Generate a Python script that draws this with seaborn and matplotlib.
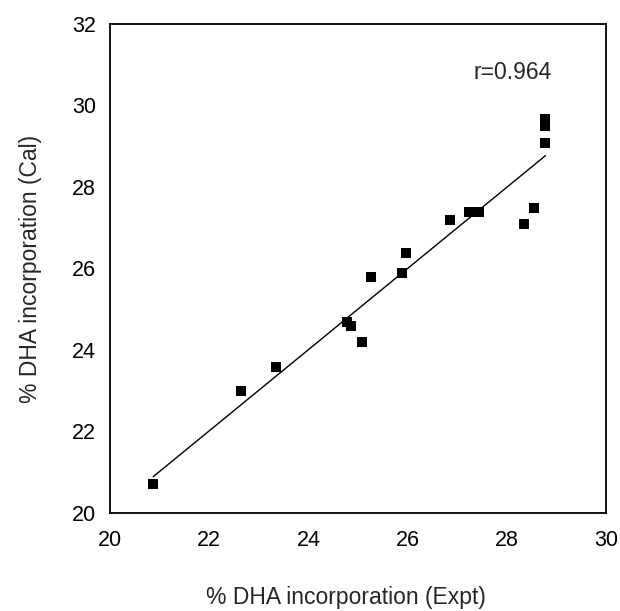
import matplotlib
matplotlib.use("Agg")
import matplotlib.pyplot as plt
import seaborn as sns
import pandas as pd

# Data
expt = [20.87, 22.65, 23.35, 24.77, 24.85, 25.08, 25.27, 25.88, 25.96, 26.85,
        27.24, 27.43, 28.34, 28.55, 28.78, 28.78, 28.78, 28.78]
cal = [20.72, 23.00, 23.59, 24.68, 24.59, 24.19, 25.79, 25.89, 26.38, 27.18,
       27.39, 27.39, 27.08, 27.48, 29.08, 29.49, 29.58, 29.68]
fit_x = [20.87, 28.78]
fit_y = [20.89, 28.77]
x_ticks = [20, 22, 24, 26, 28, 30]
y_ticks = [20, 22, 24, 26, 28, 30, 32]
r_label = "r=0.964"

sns.set_style("white")
plt.rcParams['font.family'] = ['Liberation Sans', 'DejaVu Sans']

fig = plt.figure(figsize=(6.2, 6.11), dpi=100)
ax = fig.add_axes([110 / 620, 1 - 513 / 611, 496 / 620, 489 / 611])

df = pd.DataFrame({"expt": expt, "cal": cal})
fit = pd.DataFrame({"x": fit_x, "y": fit_y})
sns.lineplot(data=fit, x="x", y="y", ax=ax, color="black", linewidth=1.0)
sns.scatterplot(data=df, x="expt", y="cal", ax=ax, marker="s", s=55,
                color="black", edgecolor="black", linewidth=0)

ax.set_xlim(20, 30)
ax.set_ylim(20, 32)
ax.set_xticks(x_ticks)
ax.set_yticks(y_ticks)
ax.tick_params(axis="both", direction="in", length=6, width=1.2,
               labelsize=15.5, colors="black")
ax.tick_params(axis="x", pad=12, top=False)
ax.tick_params(axis="y", pad=10, right=False)
for s in ax.spines.values():
    s.set_color("black")
    s.set_linewidth(1.3)

ax.set_xlabel("% DHA incorporation (Expt)", fontsize=16.5, va="center")
ax.set_ylabel("% DHA incorporation (Cal)", fontsize=16.5, va="center")
ax.xaxis.set_label_coords(0.476, -0.172)
ax.yaxis.set_label_coords(-0.161, 0.5)

ax.text(28.12, 30.80, r_label, fontsize=16.5, ha="center", va="center")

fig.savefig("out.png", dpi=100)
